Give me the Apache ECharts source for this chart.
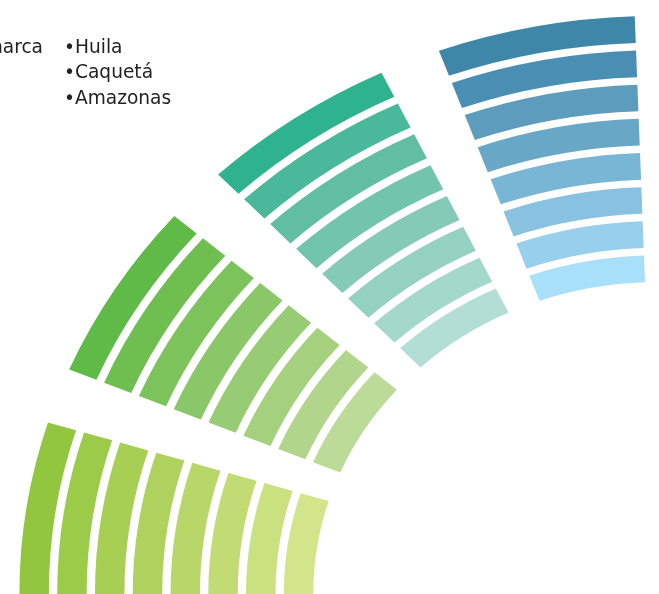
<!DOCTYPE html>
<html>
<head>
<meta charset="utf-8">
<script src="https://cdn.jsdelivr.net/npm/echarts@6/dist/echarts.min.js"></script>
<style>
  html, body { margin: 0; padding: 0; background: #ffffff; }
  #chart { width: 659px; height: 594px; }
</style>
</head>
<body>
<div id="chart"></div>
<script>
// Region list shown as text
const regions = ['Cundinamarca', 'Huila', 'Caquetá', 'Amazonas'];

// Angular extent of each fan (degrees, counter-clockwise from 3 o'clock)
const sectorStart = [162.8, 139.2, 115.6, 92.0];
const sectorEnd = [180.8, 157.2, 133.5, 110.0];

// Ring index (0 = innermost)
const rings = [0, 1, 2, 3, 4, 5, 6, 7];

// Colours per fan, outer ring first
const palettes = [
    ['#93c63f', '#9ccb49', '#a6cf54', '#afd25f', '#b9d769', '#c3db74', '#cbe07f', '#d4e48a'],
    ['#5fba47', '#6fbf50', '#7cc35c', '#89c769', '#97cc74', '#a5d17f', '#b1d68b', '#bddb98'],
    ['#2fb38f', '#4ab89b', '#62bea3', '#73c4ac', '#85cab7', '#94d1c1', '#a4d8cb', '#b3ded6'],
    ['#3e87a8', '#4a8fb3', '#5d9cbd', '#69a7c7', '#79b5d5', '#88c2e0', '#98cfec', '#a8dff9']
];

const BAND = 0.78;       // ring thickness as a share of ring pitch
const STRETCH = 1.105;   // horizontal stretch of the original artwork

const data = [];
sectorStart.forEach(function(start, s) {
    rings.forEach(function(ring) {
        data.push([ring, start, sectorEnd[s], s]);
    });
});

function renderArc(params, api) {
    const cs = params.coordSys;
    const ring = api.value(0);
    const s = api.value(3);
    const pIn0 = api.coord([ring, api.value(1)]);
    const pOut0 = api.coord([ring + BAND, api.value(1)]);
    const pIn1 = api.coord([ring, api.value(2)]);
    const r0 = Math.hypot(pIn0[0] - cs.cx, pIn0[1] - cs.cy);
    const r = Math.hypot(pOut0[0] - cs.cx, pOut0[1] - cs.cy);
    let a0 = Math.atan2(pIn0[1] - cs.cy, pIn0[0] - cs.cx);
    let a1 = Math.atan2(pIn1[1] - cs.cy, pIn1[0] - cs.cx);
    while (a1 > a0) a1 -= Math.PI * 2;
    return {
        type: 'group',
        x: cs.cx,
        y: cs.cy,
        scaleX: STRETCH,
        children: [{
            type: 'sector',
            shape: { cx: 0, cy: 0, r0: r0, r: r, startAngle: a1, endAngle: a0, clockwise: true },
            style: { fill: palettes[s][rings.length - 1 - ring] }
        }]
    };
}

const textFont = '18.6px "DejaVu Sans"';
const textColor = '#222222';
const chart = echarts.init(document.getElementById('chart'));
chart.setOption({
    animation: false,
    polar: {
        center: [657, 593],
        radius: [311, 577]
    },
    angleAxis: {
        type: 'value',
        min: 0,
        max: 360,
        startAngle: 0,
        clockwise: false,
        show: false
    },
    radiusAxis: {
        type: 'value',
        min: 0,
        max: rings.length - 1 + BAND,
        show: false
    },
    series: [{
        type: 'custom',
        coordinateSystem: 'polar',
        silent: true,
        encode: { radius: 0, angle: 1 },
        data: data,
        renderItem: renderArc
    }],
    graphic: [
        { type: 'text', x: 43, y: 48, style: { text: '•' + regions[0], font: textFont, fill: textColor, textAlign: 'right', textVerticalAlign: 'middle' } },
        { type: 'text', x: 64, y: 48, style: { text: '•' + regions[1], font: textFont, fill: textColor, textAlign: 'left', textVerticalAlign: 'middle' } },
        { type: 'text', x: 64, y: 73.5, style: { text: '•' + regions[2], font: textFont, fill: textColor, textAlign: 'left', textVerticalAlign: 'middle' } },
        { type: 'text', x: 64, y: 99, style: { text: '•' + regions[3], font: textFont, fill: textColor, textAlign: 'left', textVerticalAlign: 'middle' } }
    ]
});
</script>
</body>
</html>
